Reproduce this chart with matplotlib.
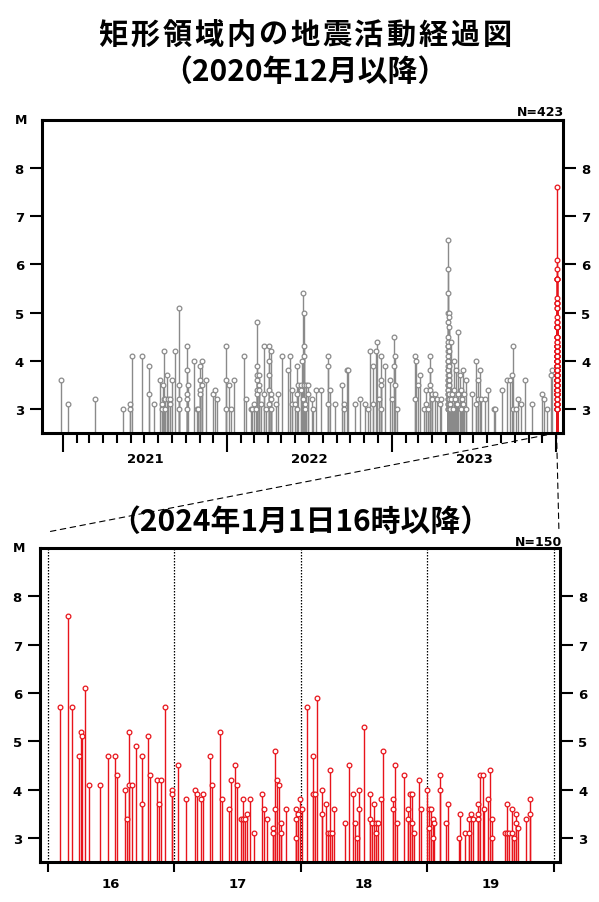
import matplotlib
matplotlib.use('Agg')
import matplotlib.pyplot as plt
import matplotlib.dates as mdates
from matplotlib.patches import ConnectionPatch
import pandas as pd

# ---------------- data ----------------
# Top panel: events before 2024 (date, magnitudes on that date)
gray_dates = [
    "2020-12-28", "2021-01-13", "2021-03-13", "2021-05-14", "2021-05-30", "2021-05-31", "2021-06-03",
    "2021-06-25", "2021-07-11", "2021-07-23", "2021-08-04", "2021-08-09", "2021-08-10", "2021-08-12",
    "2021-08-14", "2021-08-16", "2021-08-17", "2021-08-21", "2021-08-23", "2021-08-27", "2021-08-28",
    "2021-09-01", "2021-09-07", "2021-09-16", "2021-09-17", "2021-10-03", "2021-10-07", "2021-10-19",
    "2021-10-25", "2021-10-29", "2021-11-02", "2021-11-05", "2021-11-15", "2021-12-01", "2021-12-05",
    "2021-12-09", "2021-12-30", "2022-01-05", "2022-01-10", "2022-01-15", "2022-02-07", "2022-02-12",
    "2022-02-22", "2022-02-26", "2022-03-01", "2022-03-05", "2022-03-08", "2022-03-12", "2022-03-18",
    "2022-03-23", "2022-03-29", "2022-04-04", "2022-04-09", "2022-04-19", "2022-04-24", "2022-05-03",
    "2022-05-15", "2022-05-21", "2022-05-25", "2022-05-31", "2022-06-04", "2022-06-08", "2022-06-14",
    "2022-06-16", "2022-06-18", "2022-06-19", "2022-06-20", "2022-06-21", "2022-06-22", "2022-06-23",
    "2022-06-24", "2022-06-29", "2022-07-08", "2022-07-11", "2022-07-17", "2022-07-28", "2022-08-13",
    "2022-08-16", "2022-08-29", "2022-09-13", "2022-09-18", "2022-09-23", "2022-09-27", "2022-10-12",
    "2022-10-23", "2022-11-03", "2022-11-09", "2022-11-13", "2022-11-21", "2022-11-26", "2022-11-30",
    "2022-12-03", "2022-12-09", "2022-12-17", "2022-12-28", "2023-01-01", "2023-01-05", "2023-01-09",
    "2023-01-13", "2023-02-21", "2023-02-24", "2023-02-28", "2023-03-05", "2023-03-13", "2023-03-18",
    "2023-03-22", "2023-03-27", "2023-03-31", "2023-04-06", "2023-04-11", "2023-04-17", "2023-04-21",
    "2023-05-05", "2023-05-06", "2023-05-07", "2023-05-09", "2023-05-11", "2023-05-13", "2023-05-15",
    "2023-05-17", "2023-05-20", "2023-05-22", "2023-05-24", "2023-05-26", "2023-05-29", "2023-06-01",
    "2023-06-04", "2023-06-06", "2023-06-09", "2023-06-11", "2023-06-14", "2023-06-27", "2023-07-08",
    "2023-07-12", "2023-07-15", "2023-07-19", "2023-07-28", "2023-08-03", "2023-08-16", "2023-08-18",
    "2023-09-02", "2023-09-14", "2023-09-21", "2023-09-24", "2023-09-28", "2023-10-04", "2023-10-09",
    "2023-10-14", "2023-10-24", "2023-11-09", "2023-12-01", "2023-12-04", "2023-12-11", "2023-12-20",
    "2023-12-23",
]
gray_mags = [
    [3.6], [3.1], [3.2], [3.0], [3.1], [3.0], [4.1],
    [4.1], [3.9, 3.3], [3.1], [3.6], [3.0], [3.1], [3.5],
    [4.2, 3.2], [3.2], [3.0], [3.7], [3.2], [3.2], [3.1],
    [3.6], [4.2], [5.1, 3.5], [3.2, 3.0], [4.3, 3.8, 3.3, 3.2, 3.0], [3.5], [4.0],
    [3.0], [3.0], [3.9, 3.6, 3.4, 3.3], [4.0, 3.5], [3.6], [3.3], [3.4],
    [3.2], [4.3, 3.6, 3.0], [3.5], [3.0], [3.6], [4.1], [3.2],
    [3.0], [3.0], [3.1], [3.0], [4.8, 3.9, 3.7, 3.6, 3.4, 3.3], [3.7, 3.5, 3.4], [3.1],
    [4.3, 3.3], [3.0], [4.3, 4.0, 3.7, 3.4, 3.1], [4.2, 3.3, 3.2, 3.0], [3.1], [3.3], [4.1],
    [3.8], [4.1], [3.4, 3.1], [3.1], [3.9, 3.3, 3.0], [3.5], [3.5, 3.4],
    [4.0], [3.2], [5.4], [5.0, 4.3], [4.1, 3.5], [3.0], [3.1],
    [3.5], [3.5, 3.3], [3.2], [3.0], [3.4], [3.4], [4.1, 3.9, 3.1],
    [3.4], [3.1], [3.5], [3.1, 3.0], [3.8], [3.8], [3.1],
    [3.2], [3.1], [3.0], [4.2], [3.9, 3.1], [4.2], [4.4],
    [3.2], [4.1, 3.6, 3.5, 3.0], [3.9], [3.6], [3.2], [4.5, 3.9], [4.1, 3.5],
    [3.0], [4.1, 3.2], [4.0], [3.5], [3.7], [3.0], [3.4, 3.1],
    [3.0], [4.1, 3.8, 3.5, 3.4], [3.3, 3.2], [3.3], [3.2], [3.1], [3.2],
    [6.5, 5.9, 5.4, 4.8, 4.5, 4.3, 4.2, 4.0, 3.9, 3.8, 3.6, 3.5, 3.4, 3.3, 3.2, 3.1, 3.0],
    [5.0, 4.4, 4.3, 4.1, 4.0, 3.8, 3.7, 3.6, 3.5, 3.4, 3.3, 3.2, 3.1, 3.0],
    [4.2, 3.9, 3.7, 3.5, 3.3, 3.1, 3.0],
    [5.0, 4.9, 4.7, 3.6, 3.2], [3.1, 3.0], [4.4, 3.2], [3.3],
    [3.0], [4.0, 3.4], [3.2], [3.8, 3.1], [3.1], [4.6, 3.3], [3.7],
    [3.4, 3.0], [3.2], [3.8, 3.1], [3.3], [3.6, 3.0], [3.3], [4.0, 3.1],
    [3.6, 3.2], [3.8], [3.2], [3.2], [3.4], [3.0], [3.0],
    [3.4], [3.6], [3.6], [3.7], [4.3, 3.0], [3.0], [3.2],
    [3.1], [3.6], [3.1], [3.3], [3.2], [3.0], [3.7],
    [3.8],
]

# Bottom panel: events from 2024-01-01 16:00 (minutes after 16:00, magnitudes)
red_minutes = [
    5.9, 9.9, 11.8, 14.9, 15.7, 16.5, 17.8, 19.8, 24.9, 28.8, 31.8, 32.8, 36.7, 37.8, 38.8, 39.9,
    41.9, 44.9, 47.8, 48.7, 51.8, 52.9, 53.9, 55.8, 58.9, 61.7, 65.8, 69.9, 70.7, 72.8, 73.8, 76.9,
    77.8, 81.9, 82.9, 85.9, 86.8, 88.9, 89.8, 91.7, 92.7, 93.8, 94.7, 95.8, 97.9, 101.8, 102.8, 103.9,
    106.7, 107.8, 108.8, 109.7, 110.8, 112.9, 117.8, 118.9, 119.8, 120.8, 123.0, 126.0, 126.8, 127.9,
    130.0, 131.9, 133.0, 133.9, 135.0, 135.9, 141.0, 142.9, 145.0, 145.9, 146.8, 147.8, 149.9, 152.9,
    154.0, 154.9, 155.9, 156.8, 157.9, 158.9, 163.6, 164.7, 165.8, 168.8, 171.0, 171.8, 172.8, 173.9,
    175.9, 176.9, 179.9, 180.8, 181.8, 182.7, 183.2, 186.0, 188.9, 190.0, 195.0, 195.8, 197.9, 199.9,
    200.7, 201.8, 203.9, 205.0, 206.6, 206.9, 208.9, 209.9, 210.8, 216.9, 218.0, 218.9, 220.0, 221.0,
    222.1, 222.9, 226.8, 229.0,
]
red_mags = [
    [5.7], [7.6], [5.7], [4.7], [5.2], [5.1], [6.1], [4.1], [4.1], [4.7], [4.7], [4.3], [4.0], [3.4], [5.2, 4.1], [4.1],
    [4.9], [4.7, 3.7], [5.1], [4.3], [4.2], [3.7], [4.2], [5.7], [4.0, 3.9], [4.5], [3.8], [4.0], [3.9], [3.8], [3.9], [4.7],
    [4.1], [5.2], [3.8], [3.6], [4.2], [4.5], [4.1], [3.4], [3.8, 3.4], [3.4], [3.5], [3.8], [3.1], [3.9], [3.6], [3.4],
    [3.2, 3.1], [4.8, 3.6], [4.2], [4.1], [3.3, 3.1], [3.6], [3.6, 3.4, 3.0], [3.5], [3.8], [3.6], [5.7], [4.7, 3.9], [3.9], [5.9],
    [4.0, 3.5], [3.7], [3.1], [4.4, 3.1], [3.1], [3.6], [3.3], [4.5], [3.9], [3.3], [3.0], [4.0, 3.6], [5.3], [3.9, 3.4],
    [3.3], [3.7], [3.3, 3.1], [3.3], [3.8], [4.8], [3.8, 3.6], [4.5], [3.3], [4.3], [3.6, 3.4], [3.9], [3.9, 3.3], [3.1],
    [4.2], [3.6], [4.0], [3.6, 3.2], [3.6], [3.4, 3.0], [3.3], [4.3, 4.0], [3.3], [3.7], [3.0], [3.5], [3.1], [3.4, 3.1],
    [3.5], [3.4], [3.7, 3.5, 3.4], [4.3], [4.3], [3.6], [3.8], [4.4], [3.4, 3.0], [3.1], [3.7, 3.1], [3.1], [3.6, 3.1], [3.0],
    [3.5, 3.3], [3.2], [3.4], [3.8, 3.5],
]

year_labels = ["2021", "2022", "2023"]
hour_labels = ["16", "17", "18", "19"]
y_ticks = [3, 4, 5, 6, 7, 8]

title_top = "矩形領域内の地震活動経過図"
title_top2 = "（2020年12月以降）"
title_bottom = "（2024年1月1日16時以降）"
n_top = "N=423"
n_bottom = "N=150"

# ---------------- style ----------------
GRAY = "#8a8a8a"
RED = "#e8141b"
YMIN, YMAX = 2.5, 9.0
CJK = ["Noto Sans CJK JP", "DejaVu Sans"]
plt.rcParams['font.family'] = ['DejaVu Sans']

# expand event lists
g_x, g_y = [], []
for d, ms in zip(gray_dates, gray_mags):
    for m in ms:
        g_x.append(mdates.date2num(pd.Timestamp(d)))
        g_y.append(m)
r_t, r_y = [], []
for t, ms in zip(red_minutes, red_mags):
    for m in ms:
        r_t.append(t)
        r_y.append(m)
base = pd.Timestamp("2024-01-01 16:00")
r_x_top = [mdates.date2num(base + pd.Timedelta(minutes=t)) for t in r_t]

W, H = 599, 903
fig = plt.figure(figsize=(W / 100, H / 100), dpi=100)
ax1 = fig.add_axes([42 / W, 1 - 434 / H, 521 / W, 313 / H])
ax2 = fig.add_axes([40 / W, 1 - 863 / H, 520 / W, 314 / H])


def stems(ax, xs, ys, color):
    ax.vlines(xs, YMIN, ys, color=color, lw=1.0, zorder=2)
    ax.plot(xs, ys, ls='none', marker='o', ms=3.4, mfc='white', mec=color, mew=0.9, zorder=3)


def style_y(ax):
    ax.set_ylim(YMIN, YMAX)
    ax.set_yticks(y_ticks)
    ax.set_yticklabels([str(v) for v in y_ticks], fontsize=9.5, fontweight='bold')
    ax.tick_params(axis='y', which='major', left=True, right=True, labelleft=True, labelright=True,
                   length=9, width=1.5, direction='out', pad=4)
    for s in ax.spines.values():
        s.set_linewidth(2.2)
    ax.text(-0.04, 1.0, "M", transform=ax.transAxes, ha='center', va='center',
            fontsize=9, fontweight='bold')


# ---- top panel ----
stems(ax1, g_x, g_y, GRAY)
stems(ax1, r_x_top, r_y, RED)
style_y(ax1)
ax1.set_xlim(mdates.date2num(pd.Timestamp("2020-11-16")), mdates.date2num(pd.Timestamp("2024-01-16")))
year_starts = [mdates.date2num(pd.Timestamp(f"{y}-01-01")) for y in (2021, 2022, 2023, 2024)]
ax1.set_xticks(year_starts)
ax1.set_xticklabels([""] * len(year_starts))
months = [mdates.date2num(d) for d in pd.date_range("2021-02-01", "2023-12-01", freq="MS") if d.month != 1]
ax1.set_xticks(months, minor=True)
ax1.tick_params(axis='x', which='major', length=14, width=1.5, direction='out', top=False)
ax1.tick_params(axis='x', which='minor', length=7, width=1.5, direction='out', top=False)
for i, lab in enumerate(year_labels):
    mid = (year_starts[i] + year_starts[i + 1]) / 2
    ax1.text(mid, -0.08, lab, transform=ax1.get_xaxis_transform(), ha='center', va='center',
             fontsize=9.5, fontweight='bold')
ax1.text(1.002, 1.026, n_top, transform=ax1.transAxes, ha='right', va='center', fontsize=9, fontweight='bold')

# ---- bottom panel ----
stems(ax2, r_t, r_y, RED)
style_y(ax2)
ax2.set_xlim(-3.6, 243)
hours = [0, 60, 120, 180, 240]
ax2.set_xticks(hours)
ax2.set_xticklabels([""] * len(hours))
ax2.tick_params(axis='x', which='major', length=7, width=1.5, direction='out', top=False)
for h in hours:
    ax2.axvline(h, color='black', lw=0.9, ls=(0, (1.2, 1.2)), zorder=1)
for i, lab in enumerate(hour_labels):
    ax2.text(hours[i] + 30, -0.07, lab, transform=ax2.get_xaxis_transform(), ha='center', va='center',
             fontsize=9.5, fontweight='bold')
ax2.text(1.004, 1.022, n_bottom, transform=ax2.transAxes, ha='right', va='center', fontsize=9, fontweight='bold')

# ---- titles ----
# first line drawn character by character with the wider letter spacing of the original
step = 32 / W
n = len(title_top)
for i, ch in enumerate(title_top):
    fig.text(305 / W + (i - (n - 1) / 2) * step, 1 - 35 / H, ch, ha='center', va='center',
             fontsize=21, fontweight='bold', family=CJK)
fig.text(305 / W, 1 - 72 / H, title_top2, ha='center', va='center', fontsize=21.5, fontweight='bold', family=CJK)
fig.text(300 / W, 1 - 522 / H, title_bottom, ha='center', va='center', fontsize=21.5, fontweight='bold', family=CJK)

# ---- connecting dashed lines ----
anchor = (mdates.date2num(base), YMIN)
for xb in (0.0, 242.5):
    con = ConnectionPatch(xyA=anchor, coordsA=ax1.transData, xyB=(xb, 1.051), coordsB=ax2.get_xaxis_transform(),
                          ls=(0, (5, 4)), lw=0.8, color='black', zorder=0)
    fig.add_artist(con)

fig.savefig("out.png", dpi=100)
